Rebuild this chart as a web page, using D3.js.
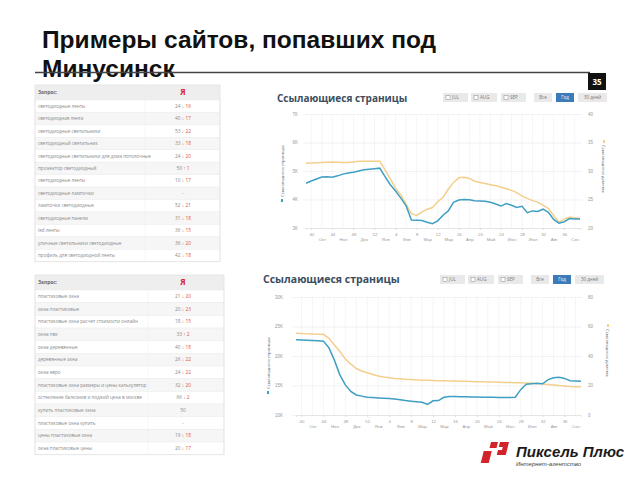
<!DOCTYPE html>
<html>
<head>
<meta charset="utf-8">
<script src="https://cdn.jsdelivr.net/npm/d3@7"></script>
<style>
  body { margin: 0; background: #fff; }
  svg { display: block; font-family: "Open Sans", "Liberation Sans", sans-serif; }
</style>
</head>
<body>
<svg id="slide" width="640" height="480"></svg>
<script>
// ---- data ----
const weekTicks = [40, 44, 48, 52, 4, 8, 12, 16, 20, 24, 28, 32, 36];
const monthTicks = ["Окт", "Ноя", "Дек", "Янв", "Фев", "Мар", "Мар", "Апр", "Май", "Июн", "Июл", "Авг", "Сен"];
const buttonLabels = ["JUL", "AUG", "SEP", "Все", "Год", "30 дней"];

// chart 1 (LED site), weekly points; blue = pages (K), orange = domains
const pages1 = [4.57, 4.65, 4.72, 4.79, 4.80, 4.78, 4.83, 4.89, 4.93, 4.96, 5.00, 5.04, 5.06, 5.08, 5.10,
  4.80, 4.52, 4.30, 4.05, 3.78, 3.28, 3.27, 3.26, 3.20, 3.15, 3.25, 3.45, 3.60, 3.90, 3.98,
  4.00, 3.99, 3.96, 3.95, 3.94, 3.90, 3.84, 3.77, 3.86, 3.80, 3.72, 3.76, 3.54, 3.60, 3.58,
  3.66, 3.55, 3.30, 3.17, 3.22, 3.33, 3.32, 3.32];
const domains1 = [31.35, 31.4, 31.45, 31.5, 31.55, 31.6, 31.55, 31.5, 31.5, 31.6, 31.7, 31.7, 31.7, 31.7, 31.7,
  30.2, 28.6, 27.0, 25.8, 24.2, 22.5, 22.2, 22.8, 23.3, 23.6, 24.6, 25.4, 26.8, 28.0, 28.8,
  28.9, 28.7, 28.2, 28.0, 27.8, 27.6, 27.4, 27.2, 26.9, 26.6, 26.2, 25.6, 25.2, 24.8, 24.5,
  24.0, 23.4, 22.2, 21.0, 21.6, 21.9, 21.8, 21.7];
const left1Ticks = [3, 4, 5, 6, 7];
const right1Ticks = [20, 25, 30, 35, 40];

// chart 2 (windows site)
const pages2 = [22.76, 22.72, 22.68, 22.64, 22.58, 22.52, 21.4, 19.3, 16.8, 15.1, 14.0, 13.4, 13.2, 13.0, 12.95,
  12.9, 12.85, 12.8, 12.7, 12.6, 12.45, 12.35, 12.25, 12.15, 11.8, 12.4, 12.45, 13.0, 13.15, 13.15,
  13.1, 13.1, 13.05, 13.05, 13.0, 13.0, 13.0, 12.95, 12.95, 12.95, 13.0, 14.3, 15.2, 15.3, 15.4,
  15.3, 16.0, 16.3, 16.4, 16.2, 15.8, 15.75, 15.7];
const domains2 = [55.5, 55.2, 55.0, 54.9, 54.8, 54.7, 52.0, 47.5, 43.0, 38.0, 34.5, 31.5, 29.8, 28.6, 27.4,
  26.5, 25.8, 25.2, 24.8, 24.5, 24.2, 24.0, 23.8, 23.6, 23.5, 23.4, 23.3, 23.2, 23.1, 23.0,
  22.9, 22.8, 22.7, 22.6, 22.5, 22.4, 22.3, 22.2, 22.1, 22.0, 21.9, 21.8, 21.7, 21.5, 21.2,
  21.0, 20.7, 20.4, 20.0, 19.7, 19.4, 19.2, 19.1];
const left2Ticks = [10, 15, 20, 25, 30];
const right2Ticks = [0, 20, 40, 60, 80];

// tables
const queries1 = ["светодиодные ленты", "светодиодная лента", "светодиодные светильники", "светодиодный светильник",
  "светодиодные светильники для дома потолочные", "прожектор светодиодный", "светодиодные ленты",
  "светодиодные лампочки", "лампочки светодиодные", "светодиодные панели", "led ленты",
  "уличные светильники светодиодные", "профиль для светодиодной ленты"];
const oldRank1 = [24, 40, 53, 33, 24, 50, 10, null, 52, 31, 36, 36, 42];
const newRank1 = [16, 17, 22, 18, 20, 1, 17, null, 21, 18, 15, 20, 18];
const dir1 = ["↓", "↓", "↓", "↓", "↓", "↑", "↓", "", "↓", "↓", "↓", "↓", "↓"];

const queries2 = ["пластиковые окна", "окна пластиковые", "пластиковые окна расчет стоимости онлайн", "окна пвх",
  "окна деревянные", "деревянные окна", "окна евро", "пластиковые окна размеры и цены калькулятор",
  "остекление балконов и лоджий цена в москве", "купить пластиковые окна", "пластиковые окна купить",
  "цены пластиковые окна", "окна пластиковые цены"];
const oldRank2 = [21, 20, 18, 33, 40, 26, 24, 32, 66, 50, null, 19, 20];
const newRank2 = [20, 23, 15, 2, 18, 22, 22, 20, 2, null, null, 18, 17];
const dir2 = ["↓", "↓", "↓", "↑", "↓", "↓", "↓", "↓", "↓", "", "", "↓", "↓"];

const BLUE = "#3f9fc3";
const ORANGE = "#f4cf8c";

const svg = d3.select("#slide");
svg.append("rect").attr("width", 640).attr("height", 480).attr("fill", "#fff");

// ---- title ----
svg.append("text").attr("x", 42).attr("y", 48)
  .style("font-family", "'Liberation Sans', Arial, sans-serif")
  .style("font-weight", 700).style("font-size", "24.5px").attr("fill", "#111")
  .text("Примеры сайтов, попавших под");
svg.append("text").attr("x", 42).attr("y", 77)
  .style("font-family", "'Liberation Sans', Arial, sans-serif")
  .style("font-weight", 700).style("font-size", "24.5px").attr("fill", "#111")
  .text("Минусинск");
svg.append("line").attr("x1", 35).attr("x2", 590).attr("y1", 72.5).attr("y2", 72.5)
  .attr("stroke", "#444").attr("stroke-width", 1.3);
svg.append("rect").attr("x", 588).attr("y", 73).attr("width", 18).attr("height", 17).attr("fill", "#111");
svg.append("text").attr("x", 597).attr("y", 84.5).attr("text-anchor", "middle")
  .attr("fill", "#fff").style("font-size", "8px").style("font-weight", 700).text("35");

// ---- tables ----
function drawTable(cfg, queries, oldRank, newRank, dir) {
  const g = svg.append("g");
  const rowY = i => cfg.top + cfg.headH + i * cfg.rowH;
  g.append("rect").attr("x", cfg.x0).attr("y", cfg.top).attr("width", cfg.x1 - cfg.x0)
    .attr("height", cfg.headH).attr("fill", "#eeeeee");
  g.selectAll("rect.row").data(queries).join("rect").attr("class", "row")
    .attr("x", cfg.x0).attr("y", (d, i) => rowY(i))
    .attr("width", cfg.x1 - cfg.x0).attr("height", cfg.rowH)
    .attr("fill", (d, i) => i % 2 ? "#f6f6f6" : "#fff")
    .attr("stroke", "#ececec").attr("stroke-width", 0.5);
  g.append("rect").attr("x", cfg.x0).attr("y", cfg.top).attr("width", cfg.x1 - cfg.x0)
    .attr("height", cfg.headH + queries.length * cfg.rowH)
    .attr("fill", "none").attr("stroke", "#e2e2e2").attr("stroke-width", 0.8);
  g.append("line").attr("x1", cfg.split).attr("x2", cfg.split)
    .attr("y1", cfg.top).attr("y2", rowY(queries.length)).attr("stroke", "#efefef").attr("stroke-width", 0.5);
  g.append("text").attr("x", cfg.x0 + 3).attr("y", cfg.top + cfg.headH / 2 + 1.7)
    .style("font-size", "4.8px").style("font-weight", 700).attr("fill", "#666").text("Запрос:");
  g.append("text").attr("x", cfg.valX).attr("y", cfg.top + cfg.headH / 2 + 2.8).attr("text-anchor", "middle")
    .style("font-size", "8px").style("font-weight", 700).attr("fill", "#d9252b").text("Я");
  g.selectAll("text.q").data(queries).join("text").attr("class", "q")
    .attr("x", cfg.x0 + 3).attr("y", (d, i) => rowY(i) + cfg.rowH / 2 + 1.6)
    .style("font-size", "4.6px").attr("fill", "#8a8a8a").text(d => d);
  const v = g.selectAll("text.v").data(queries).join("text").attr("class", "v")
    .attr("x", cfg.valX).attr("y", (d, i) => rowY(i) + cfg.rowH / 2 + 1.6)
    .attr("text-anchor", "middle").style("font-size", "4.8px").attr("fill", "#8a8a8a");
  v.each(function(d, i) {
    const t = d3.select(this);
    if (oldRank[i] == null) { t.text("-"); return; }
    t.append("tspan").text(oldRank[i]);
    if (newRank[i] != null) {
      t.append("tspan").attr("fill", "#d9534f").text(" " + dir[i] + " " + newRank[i]);
    }
  });
}
drawTable({ x0: 35, x1: 220, split: 145, valX: 183, top: 85, headH: 15, rowH: 12.44 },
  queries1, oldRank1, newRank1, dir1);
drawTable({ x0: 35, x1: 224, split: 148, valX: 183, top: 275, headH: 15, rowH: 12.67 },
  queries2, oldRank2, newRank2, dir2);

// ---- charts ----
function drawChart(cfg) {
  const g = svg.append("g");
  const x = d3.scaleLinear().domain([0, cfg.pages.length - 1]).range([cfg.x0, cfg.x1]);
  const yL = d3.scaleLinear().domain(d3.extent(cfg.leftTicks)).range([cfg.yB, cfg.yT]);
  const yR = d3.scaleLinear().domain(d3.extent(cfg.rightTicks)).range([cfg.yB, cfg.yT]);

  g.append("text").attr("x", cfg.titleX).attr("y", cfg.titleY)
    .style("font-size", cfg.titleSize + "px").style("font-weight", 700).attr("fill", "#3b4d5e")
    .text("Ссылающиеся страницы");

  // buttons
  const bw = [25, 26, 25, 18, 18, 29];
  const bx = [cfg.btnX, cfg.btnX + 28, cfg.btnX + 58, cfg.btnX + 91, cfg.btnX + 113, cfg.btnX + 135];
  buttonLabels.forEach((lab, i) => {
    const sel = lab === "Год";
    g.append("rect").attr("x", bx[i]).attr("y", cfg.btnY).attr("width", bw[i]).attr("height", 9)
      .attr("fill", sel ? "#3c7ab8" : "#e9e9e9");
    if (i < 3) {
      g.append("rect").attr("x", bx[i] + 3).attr("y", cfg.btnY + 2.5).attr("width", 4).attr("height", 4)
        .attr("fill", "#fff").attr("stroke", "#888").attr("stroke-width", 0.5);
    }
    g.append("text").attr("x", i < 3 ? bx[i] + 9 : bx[i] + bw[i] / 2).attr("y", cfg.btnY + 6.2)
      .attr("text-anchor", i < 3 ? "start" : "middle")
      .style("font-size", "4.5px").attr("fill", sel ? "#fff" : "#777").text(lab);
  });

  // vertical grid
  g.append("g").selectAll("line").data(d3.range(1, cfg.pages.length, 2)).join("line")
    .attr("x1", d => x(d)).attr("x2", d => x(d)).attr("y1", cfg.yT).attr("y2", cfg.yB)
    .attr("stroke", "#f0f0f0").attr("stroke-width", 0.7);

  // left axis with horizontal grid
  const ax = g.append("g").attr("transform", `translate(${cfg.gx0},0)`)
    .call(d3.axisLeft(yL).tickValues(cfg.leftTicks).tickSize(-(cfg.gx1 - cfg.gx0))
      .tickPadding(cfg.padL).tickFormat(d => d + "K"));
  ax.select(".domain").remove();
  ax.selectAll("line").attr("stroke", "#ececec").attr("stroke-width", 0.7);
  ax.selectAll("text").style("font-size", "4.5px").attr("fill", "#999");

  const ar = g.append("g").attr("transform", `translate(${cfg.gx1},0)`)
    .call(d3.axisRight(yR).tickValues(cfg.rightTicks).tickSize(0).tickPadding(6));
  ar.select(".domain").remove();
  ar.selectAll("text").style("font-size", "4.5px").attr("fill", "#999");

  // x axis: weeks + months
  const wIdx = weekTicks.map((w, i) => 1 + i * 4);
  const xw = g.append("g").attr("transform", `translate(0,${cfg.yB})`)
    .call(d3.axisBottom(x).tickValues(wIdx).tickSize(2).tickPadding(3)
      .tickFormat((d, i) => weekTicks[i]));
  xw.select(".domain").attr("stroke", "#e5e5e5");
  xw.selectAll("line").attr("stroke", "#ddd");
  xw.selectAll("text").style("font-size", "4.3px").attr("fill", "#999");
  const mIdx = monthTicks.map((m, i) => 3 + i * 4);
  const xm = g.append("g").attr("transform", `translate(0,${cfg.yB + 7})`)
    .call(d3.axisBottom(x).tickValues(mIdx).tickSize(0).tickPadding(3)
      .tickFormat((d, i) => monthTicks[i]));
  xm.select(".domain").remove();
  xm.selectAll("text").style("font-size", "4.3px").attr("fill", "#999");

  // axis titles
  const lt = g.append("g").attr("transform", `translate(${cfg.lblL},${cfg.lblLY}) rotate(-90)`);
  lt.append("rect").attr("x", -2).attr("y", -1).attr("width", 3).attr("height", 2).attr("fill", BLUE);
  lt.append("text").attr("x", 3).attr("y", 1.6).style("font-size", "4.3px").attr("fill", "#666")
    .text("Ссылающиеся страницы");
  const rt = g.append("g").attr("transform", `translate(${cfg.lblR},${cfg.lblRY}) rotate(90)`);
  rt.append("rect").attr("x", -2).attr("y", -1).attr("width", 3).attr("height", 2).attr("fill", ORANGE);
  rt.append("text").attr("x", 3).attr("y", 1.6).style("font-size", "4.3px").attr("fill", "#666")
    .text("Ссылающиеся домены");

  // lines
  g.append("path").datum(cfg.domains)
    .attr("d", d3.line().x((d, i) => x(i)).y(d => yR(d)))
    .attr("fill", "none").attr("stroke", ORANGE).attr("stroke-width", 1.5);
  g.append("path").datum(cfg.pages)
    .attr("d", d3.line().x((d, i) => x(i)).y(d => yL(d)))
    .attr("fill", "none").attr("stroke", BLUE).attr("stroke-width", 1.5);
}

drawChart({
  pages: pages1, domains: domains1, leftTicks: left1Ticks, rightTicks: right1Ticks,
  x0: 306, x1: 580, yT: 114, yB: 228, gx0: 303, gx1: 582, padL: 5,
  titleX: 277, titleY: 102, titleSize: 10, btnX: 443, btnY: 93,
  lblL: 282, lblLY: 200, lblR: 604, lblRY: 142
});
drawChart({
  pages: pages2, domains: domains2, leftTicks: left2Ticks, rightTicks: right2Ticks,
  x0: 296, x1: 581, yT: 297, yB: 415, gx0: 292, gx1: 582, padL: 9,
  titleX: 263, titleY: 283, titleSize: 10.5, btnX: 440, btnY: 275,
  lblL: 268, lblLY: 392, lblR: 608, lblRY: 326
});

// ---- logo ----
const logo = svg.append("g").attr("transform", "translate(490,442) skewX(-14)");
logo.append("rect").attr("x", 1).attr("y", 0).attr("width", 7).attr("height", 6).attr("fill", "#d2232a");
logo.append("path").attr("d", "M10,0 H19 V13 H10 V8 H14 V5 H10 Z").attr("fill", "#d2232a");
logo.append("rect").attr("x", -4).attr("y", 9).attr("width", 8).attr("height", 12).attr("fill", "#d2232a");
svg.append("text").attr("x", 516).attr("y", 457)
  .style("font-family", "'Liberation Sans', Arial, sans-serif")
  .style("font-size", "15px").style("font-weight", 700).style("font-style", "italic")
  .attr("fill", "#1a1a1a").text("Пиксель Плюс");
svg.append("text").attr("x", 516).attr("y", 465.5)
  .style("font-family", "'Liberation Sans', Arial, sans-serif")
  .style("font-size", "6px").style("font-style", "italic").attr("fill", "#444")
  .text("Интернет-агентство");
</script>
</body>
</html>
